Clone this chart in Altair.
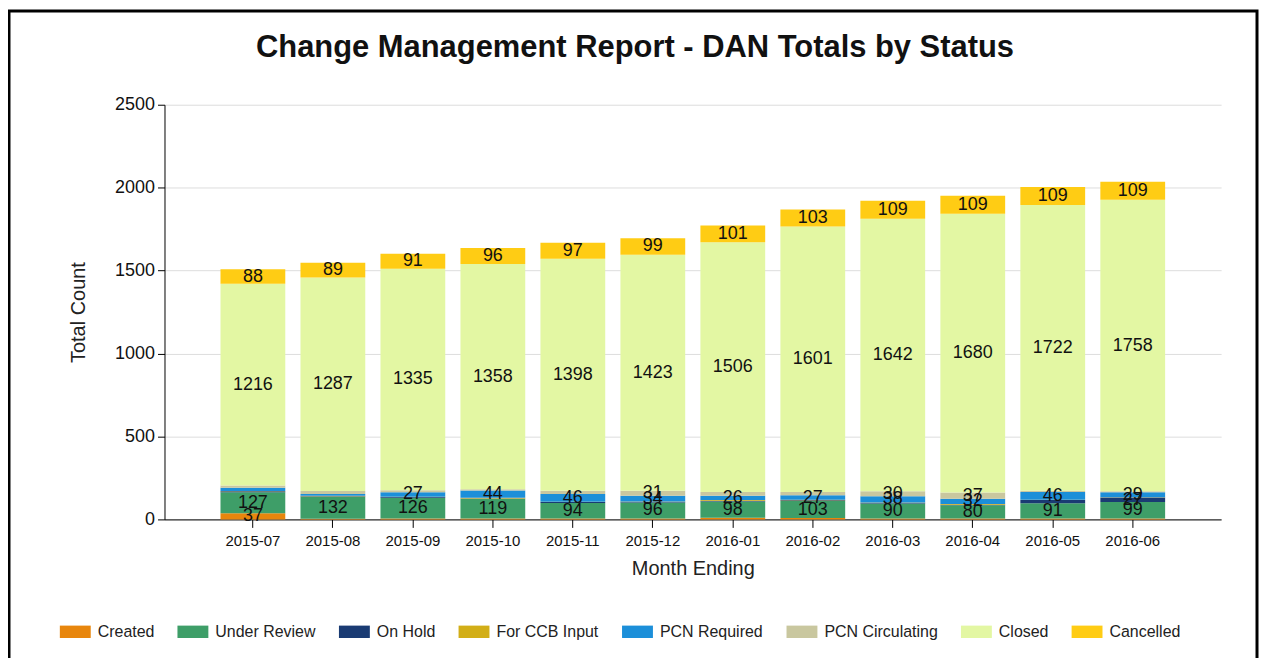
import altair as alt
import pandas as pd

months = ["2015-07", "2015-08", "2015-09", "2015-10", "2015-11", "2015-12",
          "2016-01", "2016-02", "2016-03", "2016-04", "2016-05", "2016-06"]
statuses = ["Created", "Under Review", "On Hold", "For CCB Input",
            "PCN Required", "PCN Circulating", "Closed", "Cancelled"]
colors = ["#E8860C", "#3E9E68", "#1A3B73", "#D2AE17",
          "#1C8FD9", "#C9C79F", "#E3F7A3", "#FFCC14"]

created = [37, 4, 5, 5, 5, 6, 10, 8, 6, 6, 6, 6]
under_review = [127, 132, 126, 119, 94, 96, 98, 103, 90, 80, 91, 99]
on_hold = [5, 3, 4, 2, 6, 4, 4, 4, 4, 3, 20, 27]
for_ccb = [2, 4, 2, 4, 2, 2, 5, 3, 2, 4, 2, 2]
pcn_required = [20, 10, 27, 44, 46, 34, 26, 27, 38, 32, 46, 29]
pcn_circulating = [13, 18, 12, 8, 20, 31, 22, 20, 30, 37, 8, 6]
closed = [1216, 1287, 1335, 1358, 1398, 1423, 1506, 1601, 1642, 1680, 1722, 1758]
cancelled = [88, 89, 91, 96, 97, 99, 101, 103, 109, 109, 109, 109]

series = [created, under_review, on_hold, for_ccb, pcn_required,
          pcn_circulating, closed, cancelled]

rows = []
for si, (s, vals) in enumerate(zip(statuses, series)):
    for m, v in zip(months, vals):
        rows.append({"month": m, "status": s, "order": si, "value": v})
df = pd.DataFrame(rows)

FONT = "Liberation Sans"

x_enc = alt.X(
    "month:N", sort=months, title="Month Ending",
    scale=alt.Scale(paddingInner=0.19, paddingOuter=0.7),
    axis=alt.Axis(labelAngle=0, labelFontSize=15, labelFont=FONT, labelColor="#111",
                  tickSize=8, tickColor="#000", domainColor="#000", labelPadding=6,
                  titleFontSize=20, titleFont=FONT, titleFontWeight="normal",
                  titleColor="#222", titlePadding=10, grid=False),
)

bars = alt.Chart(df).mark_bar().encode(
    x=x_enc,
    y=alt.Y("value:Q", stack="zero", title="Total Count",
            scale=alt.Scale(domain=[0, 2500], nice=False),
            axis=alt.Axis(values=[0, 500, 1000, 1500, 2000, 2500], format="d",
                          labelFontSize=18, labelFont=FONT, labelColor="#111",
                          tickSize=7, tickColor="#000", domainColor="#000",
                          labelPadding=3, gridColor="#DDDDDD",
                          titleFontSize=20, titleFont=FONT, titleFontWeight="normal",
                          titleColor="#222", titlePadding=26)),
    color=alt.Color("status:N", scale=alt.Scale(domain=statuses, range=colors),
                    legend=alt.Legend(orient="none", legendX=-105, legendY=513,
                                      direction="horizontal", columns=8, title=None,
                                      symbolType="M-1,-0.4H1V0.4H-1Z", symbolSize=961,
                                      symbolStrokeWidth=0, labelFontSize=16,
                                      labelFont=FONT, labelColor="#222", labelOffset=7,
                                      columnPadding=23, padding=0)),
    order=alt.Order("order:Q", sort="ascending"),
)

labels = alt.Chart(df).transform_stack(
    stack="value", groupby=["month"],
    sort=[alt.SortField("order", order="ascending")], as_=["y0", "y1"],
).transform_calculate(
    mid="(datum.y0 + datum.y1) / 2"
).transform_filter(
    "datum.value >= 25"
).mark_text(fontSize=18, font=FONT, color="#111", baseline="middle", align="center").encode(
    x=alt.X("month:N", sort=months),
    y=alt.Y("mid:Q"),
    text="value:Q",
)

frame = alt.Chart(pd.DataFrame({"a": [0]})).mark_rect(
    fillOpacity=0, stroke="#000", strokeWidth=3
).encode(x=alt.value(-156), x2=alt.value(1096), y=alt.value(-94), y2=alt.value(600))

chart = alt.layer(frame, bars, labels).properties(
    width=1060, height=416,
    autosize=alt.AutoSizeParams(type="none"),
    padding={"left": 157, "top": 96, "right": 38, "bottom": 138},
    title=alt.TitleParams("Change Management Report - DAN Totals by Status",
                          fontSize=31, font=FONT, fontWeight="bold", color="#111",
                          anchor="middle", dx=-58, offset=0, dy=55),
).configure_view(stroke=None)

chart.save("out.html", embed_options={"renderer": "svg", "actions": False})
